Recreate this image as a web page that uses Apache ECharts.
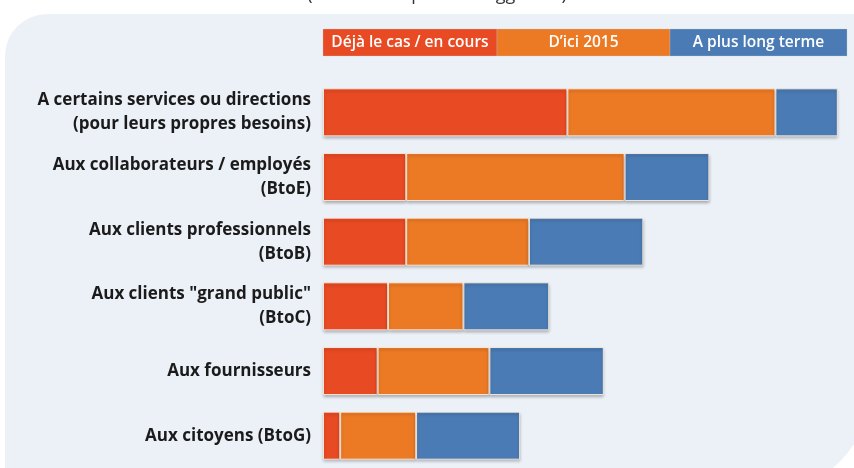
<!DOCTYPE html>
<html>
<head>
<meta charset="utf-8">
<script src="https://cdn.jsdelivr.net/npm/echarts@6/dist/echarts.min.js"></script>
<style>
  html, body { margin: 0; padding: 0; background: #fff; }
  #chart { width: 854px; height: 468px; }
</style>
</head>
<body>
<div id="chart"></div>
<script>
// categories, top to bottom
var categories = [
	'A certains services ou directions\n(pour leurs propres besoins)',
	'Aux collaborateurs / employés\n(BtoE)',
	'Aux clients professionnels\n(BtoB)',
	'Aux clients "grand public"\n(BtoC)',
	'Aux fournisseurs',
	'Aux citoyens (BtoG)'
];
var seriesNames = ['Déjà le cas / en cours', 'D\u2019ici 2015', 'A plus long terme'];
var dejaLeCas = [47, 16, 16, 12.5, 10.5, 3.3];
var dici2015 = [40, 42, 23.6, 14.5, 21.5, 14.6];
var plusLongTerme = [12, 16.3, 22, 16.5, 22, 20];
var colors = ['#E84A23', '#EC7A25', '#4A7BB4'];

var chart = echarts.init(document.getElementById('chart'));

var font = '"Open Sans", "DejaVu Sans", sans-serif';

function makeSeries(name, data, color) {
	return {
		name: name,
		type: 'bar',
		stack: 'a',
		barWidth: 48,
		data: data,
		itemStyle: {
			color: color,
			borderColor: 'rgba(255,240,225,0.85)',
			borderWidth: 1,
			shadowColor: 'rgba(0,0,0,0.28)',
			shadowBlur: 3,
			shadowOffsetY: 2
		}
	};
}

// custom legend drawn as a strip of three boxes
var legendX = [323, 497, 670, 847];
var legendEls = [];
for (var i = 0; i < 3; i++) {
	legendEls.push({
		type: 'rect',
		shape: { x: legendX[i], y: 29, width: legendX[i + 1] - legendX[i], height: 27 },
		style: { fill: colors[i], stroke: 'rgba(200,200,200,0.6)', lineWidth: 0.5 },
		z: 5
	});
	legendEls.push({
		type: 'text',
		x: (legendX[i] + legendX[i + 1]) / 2,
		y: 43,
		style: {
			text: seriesNames[i],
			fill: '#fff',
			font: '600 15.5px ' + font,
			align: 'center',
			verticalAlign: 'middle'
		},
		z: 6
	});
}

chart.setOption({
	animation: false,
	backgroundColor: '#fff',
	graphic: [
		{
			type: 'rect',
			shape: { x: 5, y: 14, width: 865, height: 476, r: [42, 0, 100, 0] },
			style: { fill: '#ECF1F8' },
			z: -10
		},
		{
			// title mostly cut off by the top edge
			type: 'text',
			x: 437,
			y: 4,
			style: {
				text: '(Plusieurs réponses suggérées)',
				fill: '#333',
				font: '18px ' + font,
				align: 'center',
				verticalAlign: 'bottom'
			}
		}
	].concat(legendEls),
	grid: { left: 323, top: 80, width: 520, height: 390 },
	xAxis: {
		type: 'value',
		min: 0,
		max: 100,
		show: false
	},
	yAxis: {
		type: 'category',
		inverse: true,
		data: categories,
		axisLine: { show: false },
		axisTick: { show: false },
		axisLabel: {
			margin: 12,
			color: '#1b1b1b',
			fontFamily: font,
			fontWeight: 'bold',
			fontSize: 17,
			lineHeight: 24,
			align: 'right'
		}
	},
	series: [
		makeSeries(seriesNames[0], dejaLeCas, colors[0]),
		makeSeries(seriesNames[1], dici2015, colors[1]),
		makeSeries(seriesNames[2], plusLongTerme, colors[2])
	]
});
</script>
</body>
</html>
